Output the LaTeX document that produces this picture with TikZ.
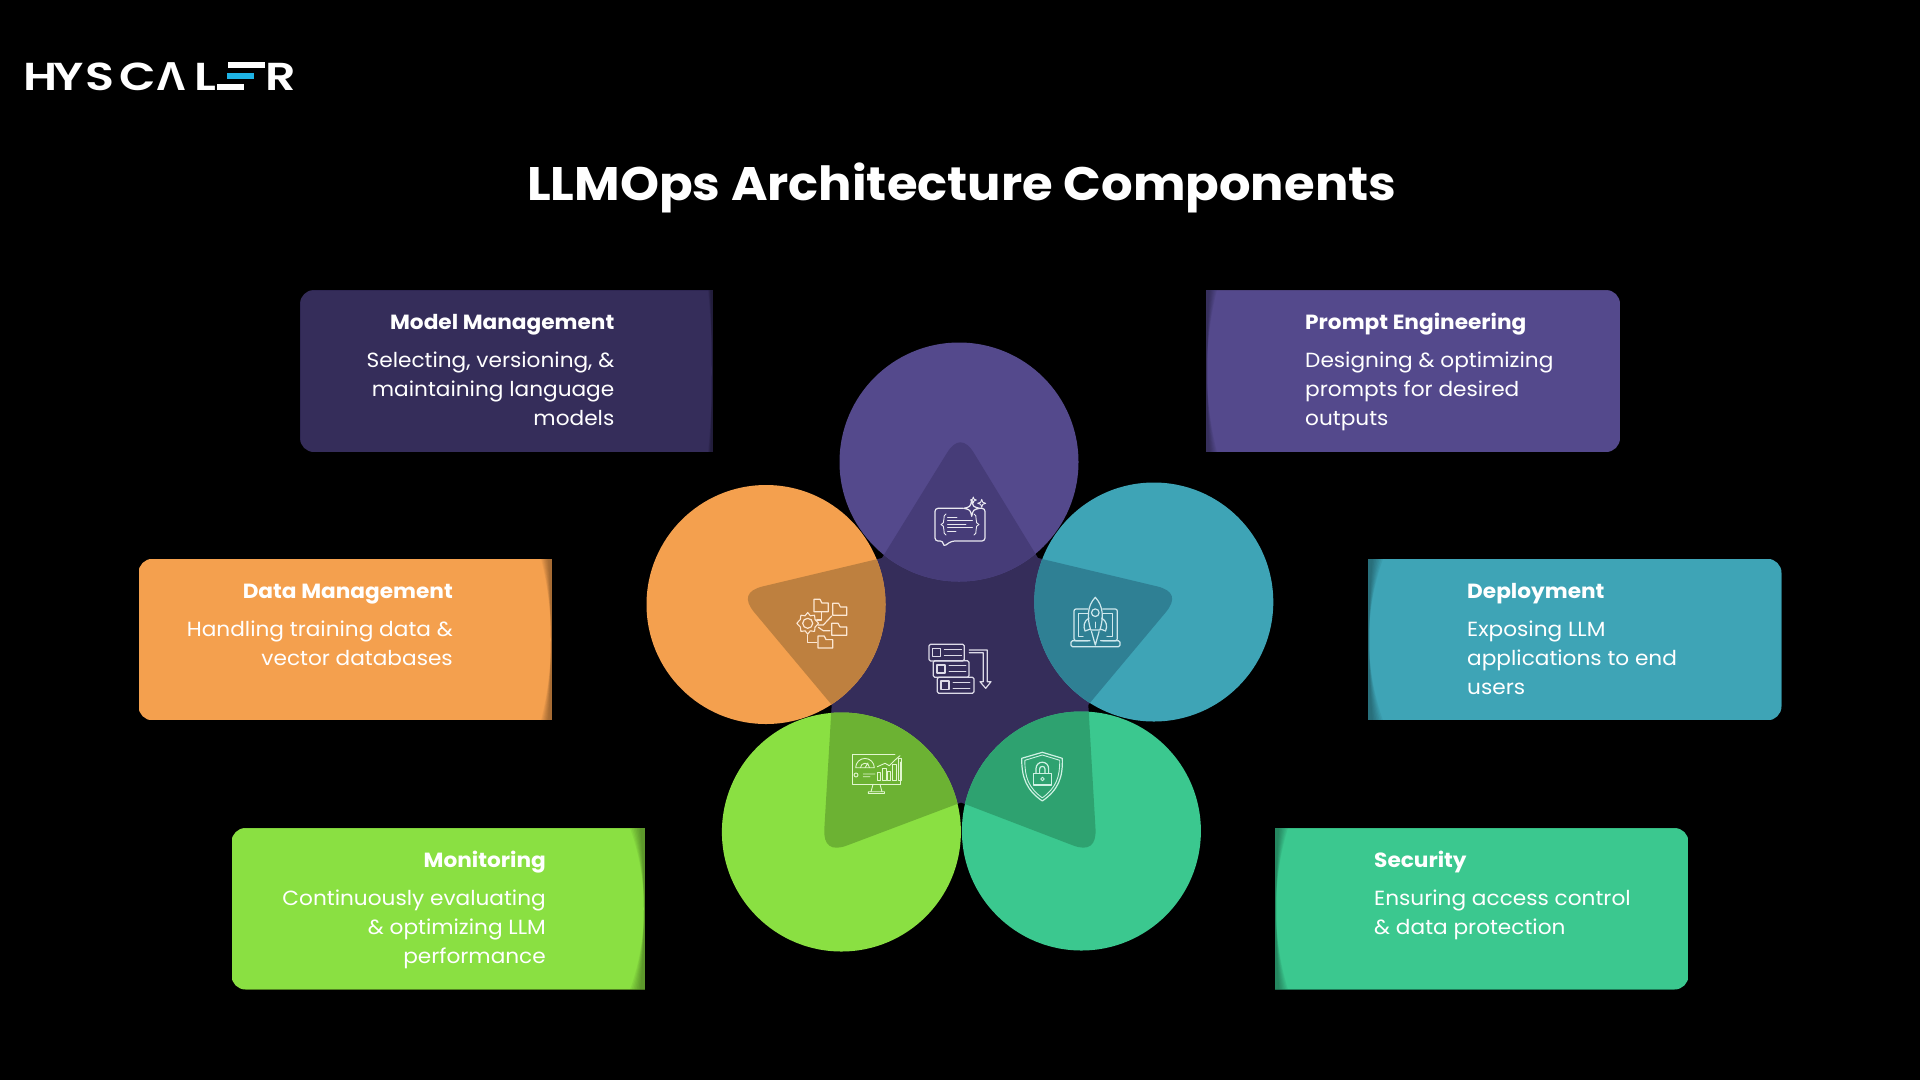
\documentclass[tikz,border=0pt]{standalone}
\usepackage{fontspec}
\usetikzlibrary{calc}
\setmainfont{Poppins}[FakeStretch=1.056]
\newfontfamily\logofont{Open Sans}[FakeStretch=1.1]
\newfontfamily\logomain{Poppins SemiBold}[FakeStretch=1.22]
\definecolor{cPurple}{HTML}{54498C}\definecolor{dPurple}{HTML}{463C78}\definecolor{cCore}{HTML}{352D5A}
\definecolor{cOrange}{HTML}{F4A04E}\definecolor{dOrange}{HTML}{BE803F}
\definecolor{cTeal}{HTML}{3EA4B6}\definecolor{dTeal}{HTML}{2F8094}
\definecolor{cGreen}{HTML}{8AE042}\definecolor{dGreen}{HTML}{6CB233}
\definecolor{cSea}{HTML}{3BC88F}\definecolor{dSea}{HTML}{2EA270}
\definecolor{cCyan}{HTML}{1EB4E6}
\tikzset{
  logoletter/.style={text=white,inner sep=0pt,anchor=base,font=\logomain\fontsize{39}{39}\selectfont},
  headL/.style={text=white,inner sep=0pt,anchor=base west,font=\fontsize{20.5}{29}\selectfont\bfseries},
  headR/.style={text=white,inner sep=0pt,anchor=base east,font=\fontsize{20.5}{29}\selectfont\bfseries},
  bodyL/.style={text=white,inner sep=0pt,anchor=north west,align=left,font=\fontsize{20.5}{29}\selectfont},
  bodyR/.style={text=white,inner sep=0pt,anchor=north east,align=right,font=\fontsize{20.5}{29}\selectfont},
  icon/.style={line width=1.2pt,line join=round,line cap=round},
  thin icon/.style={line width=0.9pt,line join=round,line cap=round},
}
\newcommand\strutline{\rule{0pt}{20pt}}
% tip of the star: previous hollow, tip, next hollow
\newcommand\startip[3]{-- ($(#2)!26pt!(#1)$) .. controls ($(#2)!9pt!(#1)$) and ($(#2)!9pt!(#3)$) .. ($(#2)!26pt!(#3)$) -- (#3)}
\newcommand\starpath{(c1) \startip{c1}{s1}{c2} \startip{c2}{s2}{c3} \startip{c3}{s3}{c4} \startip{c4}{s4}{c5} \startip{c5}{s5}{c1} -- cycle}
% box x1 y1 x2 y2 colour, rounded on the left, soft dark crescent on the right
\newcommand\boxleftround[6]{%
  \begin{scope}
  \clip ({#1+60},#2) [rounded corners=14pt] -- (#1,#2) -- (#1,#4) -- ({#1+60},#4) [sharp corners] -- (#3,#4) -- (#3,#2) -- cycle;
  \fill[#5] (#1,#2) rectangle (#3,#4);
  \foreach \s in {1,.88,.76,.64,.52,.4,.28}{
    \pgfmathsetmacro\sg{\s*#6}
    \pgfmathsetmacro\hh{(#4-#2)/2}
    \pgfmathsetmacro\rr{(\hh*\hh+\sg*\sg)/(2*\sg)}
    \pgfmathsetmacro\cx{#3-1-\rr}
    \pgfmathsetmacro\cy{(#2+#4)/2}
    \fill[black,opacity=.05,even odd rule] (#1,#2) rectangle (#3,#4) (\cx,\cy) circle[radius=\rr pt];
  }
  \end{scope}}
\newcommand\boxrightround[6]{%
  \begin{scope}
  \clip ({#3-60},#2) [rounded corners=14pt] -- (#3,#2) -- (#3,#4) -- ({#3-60},#4) [sharp corners] -- (#1,#4) -- (#1,#2) -- cycle;
  \fill[#5] (#1,#2) rectangle (#3,#4);
  \foreach \s in {1,.88,.76,.64,.52,.4,.28}{
    \pgfmathsetmacro\sg{\s*#6}
    \pgfmathsetmacro\hh{(#4-#2)/2}
    \pgfmathsetmacro\rr{(\hh*\hh+\sg*\sg)/(2*\sg)}
    \pgfmathsetmacro\cx{#1+1+\rr}
    \pgfmathsetmacro\cy{(#2+#4)/2}
    \fill[black,opacity=.05,even odd rule] (#1,#2) rectangle (#3,#4) (\cx,\cy) circle[radius=\rr pt];
  }
  \end{scope}}
\newcommand\sparkle[3]{(#1,{#2-#3}) .. controls ({#1+.18*#3},{#2-.18*#3}) .. ({#1+#3},#2) .. controls ({#1+.18*#3},{#2+.18*#3}) .. (#1,{#2+#3}) .. controls ({#1-.18*#3},{#2+.18*#3}) .. ({#1-#3},#2) .. controls ({#1-.18*#3},{#2-.18*#3}) .. cycle}
\newcommand\folder[4]{(#1,#4) -- (#1,#2) -- ({#1+0.42*(#3-#1)},#2) -- ({#1+0.55*(#3-#1)},{#2+0.3*(#4-#2)}) -- (#3,{#2+0.3*(#4-#2)}) -- (#3,#4) -- cycle}
\begin{document}
\begin{tikzpicture}[x=1pt,y=-1pt]
\fill[black] (0,0) rectangle (1920,1080);
\useasboundingbox (0,0) rectangle (1920,1080);
% logo
\node[logoletter] (lH) at (40.5,90) {H};
\node[logoletter] (lY) at (68.5,90) {Y};
\node[logoletter] (lS) at (100,90) {S};
\node[logoletter] (lC) at (137.5,90) {C};
\node[logoletter,font=\logofont\fontsize{39}{39}\selectfont\bfseries] (lA) at (171,90) {Λ};
\node[logoletter] (lL) at (205,90) {L};
\fill[white] (228,62.3) rectangle (265,67.7);
\fill[cCyan] (227,73.3) rectangle (254,79);
\fill[white] (217,84.3) rectangle (244,90);
\node[logoletter] (lR) at (281,90) {R};
% title
\node[text=white,inner sep=0pt,anchor=base west,font=\fontsize{47}{47}\selectfont\bfseries] (title) at (527,200) {LLMOps Architecture Components};
% boxes
\boxleftround{300}{290}{713}{452}{cCore}{4}
\boxrightround{1206}{290}{1620}{452}{cPurple}{10}
\boxleftround{138.5}{558.8}{552}{720.3}{cOrange}{10}
\boxrightround{1368}{558.8}{1781.5}{720.3}{cTeal}{14}
\boxleftround{231.5}{828}{645}{989.5}{cGreen}{14}
\boxrightround{1275}{828}{1688.5}{989.5}{cSea}{12}
% box texts
\node[headR] (h1) at (614.5,329.3) {Model Management};
\node[bodyR] (b1) at (614.5,347.7) {\strutline Selecting, versioning, \&\\maintaining language\\models};
\node[headL] (h2) at (1305,329.3) {Prompt Engineering};
\node[bodyL] (b2) at (1305,347.7) {\strutline Designing \& optimizing\\prompts for desired\\outputs};
\node[headR] (h3) at (453,598.3) {Data Management};
\node[bodyR] (b3) at (453,616.7) {\strutline Handling training data \&\\vector databases};
\node[headL] (h4) at (1467,598.3) {Deployment};
\node[bodyL] (b4) at (1467,616.7) {\strutline Exposing LLM\\applications to end\\users};
\node[headR] (h5) at (546,867.3) {Monitoring};
\node[bodyR] (b5) at (546,885.7) {\strutline Continuously evaluating\\\& optimizing LLM\\performance};
\node[headL] (h6) at (1374,867.3) {Security};
\node[bodyL] (b6) at (1374,885.7) {\strutline Ensuring access control\\\& data protection};
% star
\coordinate (s1) at (960.5,431);
\coordinate (c2) at (1038,558);
\coordinate (s2) at (1182.4,592.4);
\coordinate (c3) at (1088.3,704.8);
\coordinate (s3) at (1097,854.6);
\coordinate (c4) at (961,802.5);
\coordinate (s4) at (822.8,854.6);
\coordinate (c5) at (831.7,704.8);
\coordinate (s5) at (737.6,592.4);
\coordinate (c1) at (882,558);
\fill[cCore] \starpath;
% circles
\fill[cPurple] (959,462) circle[radius=119.5pt];
\fill[cOrange] (766,604.5) circle[radius=119.5pt];
\fill[cTeal] (1153.8,602) circle[radius=119.5pt];
\fill[cGreen] (841.4,832) circle[radius=119.5pt];
\fill[cSea] (1081.4,831) circle[radius=119.5pt];
\begin{scope}
\clip \starpath;
\fill[dPurple] (959,462) circle[radius=119.5pt];
\fill[dOrange] (766,604.5) circle[radius=119.5pt];
\fill[dTeal] (1153.8,602) circle[radius=119.5pt];
\fill[dGreen] (841.4,832) circle[radius=119.5pt];
\fill[dSea] (1081.4,831) circle[radius=119.5pt];
\end{scope}
% chat icon
\begin{scope}[icon,draw=white!88!cPurple]
\draw[rounded corners=3pt] (963,508.3) -- (935,508.3) -- (935,541) -- (943.3,541) -- (943.3,546.7) -- (951.7,541) -- (985,541) -- (985,508.3) -- (980,508.3);
\draw \sparkle{971.7}{508.3}{8};
\draw[thin icon] \sparkle{973.3}{500}{3};
\draw[thin icon] \sparkle{981.7}{503.3}{4};
\draw[thin icon] (946,514) .. controls (942,514) and (946,524.5) .. (941,524.5) .. controls (946,524.5) and (942,535) .. (946,535);
\draw[thin icon] (974,514) .. controls (978,514) and (974,524.5) .. (979,524.5) .. controls (974,524.5) and (978,535) .. (974,535);
\draw[thin icon] (947.5,517.7) -- (957,517.7);
\draw[thin icon] (947.5,520.3) -- (972.5,520.3) (947.5,524) -- (966,524) (947.5,527.5) -- (972.5,527.5) (947.5,531.5) -- (956,531.5);
\end{scope}
% stack icon
\begin{scope}[icon,draw=white!80!cPurple]
\draw[rounded corners=1.5pt] (929,644.3) rectangle (964.3,661);
\draw[rounded corners=1.5pt] (933.3,660.7) rectangle (969,677.3);
\draw[rounded corners=1.5pt] (937.3,677.3) rectangle (974,693.3);
\draw (932.7,648.3) rectangle (940.7,656.7) (937,665) rectangle (945,673) (941,681) rectangle (949,689.5);
\draw[thin icon] (944.3,649.3) -- (961.7,649.3) (944.3,655.7) -- (961.7,655.7);
\draw[thin icon] (949,665.5) -- (966,665.5) (949,671.5) -- (966,671.5);
\draw[thin icon] (953,682) -- (970,682) (953,688.5) -- (970,688.5);
\draw (969.3,650) -- (987.3,650) -- (987.3,681.7) -- (991,681.7) -- (985.7,688.3) -- (980,681.7) -- (983.3,681.7) -- (983.3,652.7) -- (969.3,652.7);
\end{scope}
% gear and folders icon
\begin{scope}[icon,draw=white!75!cOrange]
\draw (807.7,623.3) circle[radius=5pt];
\draw[line width=1.1pt] plot[smooth cycle,tension=.4] coordinates {
 (807.7,612.5) (810.3,615.8) (814.5,615.2) (815,619.5) (818.5,623.3) (815,627.1) (814.5,631.4) (810.3,630.8) (807.7,634.1) (805.1,630.8) (800.9,631.4) (800.4,627.1) (796.9,623.3) (800.4,619.5) (800.9,615.2) (805.1,615.8)};
\draw \folder{814}{599.3}{828.3}{611.7};
\draw \folder{832.7}{603.3}{846.7}{615.3};
\draw \folder{831.7}{623.3}{846.7}{635.3};
\draw \folder{818}{636}{832.7}{648};
\draw (821.7,611.7) -- (821.7,620) -- (816.7,620);
\draw (831.7,616) -- (823.3,625) -- (818.3,625);
\draw (818.3,627.3) -- (823.3,630.7) -- (830,630.7);
\draw (807.3,635) -- (807.3,642.3) -- (816.7,642.3);
\end{scope}
% rocket and laptop icon
\begin{scope}[icon,draw=white!75!cTeal]
\draw[rounded corners=2pt] (1088,640.7) -- (1074,640.7) -- (1074,609) -- (1088,609);
\draw[rounded corners=2pt] (1102.6,609) -- (1117.3,609) -- (1117.3,640.7) -- (1102.6,640.7);
\draw (1088,613.5) -- (1078.5,613.5) -- (1078.5,636.5) -- (1083,636.5);
\draw (1102.6,613.5) -- (1112.8,613.5) -- (1112.8,636.5) -- (1107,636.5);
\draw[rounded corners=1.5pt] (1090,640.7) -- (1071,640.7) -- (1071,646.7) -- (1120,646.7) -- (1120,640.7) -- (1100.6,640.7);
\draw (1090.7,630) .. controls (1087,618) and (1087,606) .. (1095.3,597.3) .. controls (1103.6,606) and (1103.6,618) .. (1099.9,630) -- cycle;
\draw (1095.3,612.7) circle[radius=3.8pt];
\draw (1089,618) .. controls (1084,621) and (1083,626) .. (1085,631) -- (1090.4,629);
\draw (1101.6,618) .. controls (1106.6,621) and (1107.6,626) .. (1105.6,631) -- (1100.2,629);
\draw (1091.5,631.5) -- (1095.3,645) -- (1099.1,631.5);
\draw[thin icon] (1095.3,622) -- (1095.3,628);
\end{scope}
% monitor icon
\begin{scope}[thin icon,draw=white!75!cGreen]
\draw (895,754) -- (852.3,754) -- (852.3,784.3) -- (900,784.3) -- (900,762);
\draw (873,784.3) -- (871,791.7) (880,784.3) -- (882,791.7) (868.3,791.7) -- (884.5,791.7) -- (884.5,793.5) -- (868.3,793.5) -- cycle;
\draw (855.7,767.7) arc[start angle=180,end angle=0,radius=9.3pt] -- cycle;
\draw (860.5,767.7) arc[start angle=180,end angle=0,radius=4.5pt];
\draw (865,767.7) -- (868,763);
\draw (877.3,780) rectangle (880,772) (882.3,780) rectangle (886,768) (887.3,780) rectangle (890.7,771) (892.7,780) rectangle (896.7,764) (898.3,780) rectangle (901.7,758);
\draw (877.3,766.7) -- (885,763.3) -- (889.3,765.7) -- (895,760) -- (900,755.7);
\draw (856,775) circle[radius=2pt] (863.3,774) -- (875,774) (863.3,776.7) -- (870,776.7);
\end{scope}
% shield icon
\begin{scope}[icon,draw=white!75!cSea]
\draw (1042.3,752.3) -- (1062.3,758.3) .. controls (1063,778) and (1058,790) .. (1042.3,801) .. controls (1026.6,790) and (1021.6,778) .. (1021.7,758.3) -- cycle;
\draw[thin icon] (1042.3,755) -- (1059.7,760.3) .. controls (1060,777) and (1056,788) .. (1042.3,797.8) .. controls (1028.6,788) and (1024.6,777) .. (1024.9,760.3) -- cycle;
\draw (1033.3,773.3) rectangle (1051.7,785);
\draw (1036,773.3) -- (1036,768.5) arc[start angle=180,end angle=0,radius=6.3pt] -- (1048.6,773.3);
\draw (1039.6,773.3) -- (1039.6,769) arc[start angle=180,end angle=0,radius=2.7pt] -- (1045,773.3);
\draw[thin icon] (1042.5,779) circle[radius=1.7pt];
\end{scope}
\end{tikzpicture}
\end{document}
